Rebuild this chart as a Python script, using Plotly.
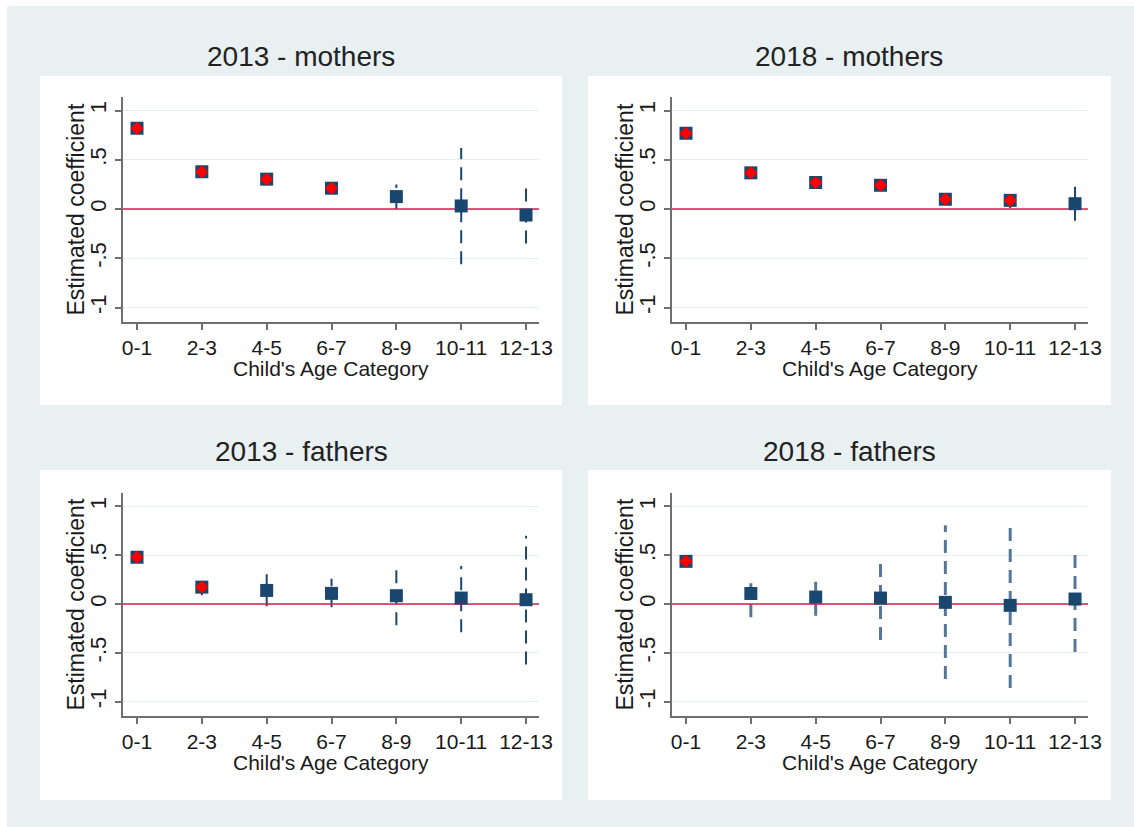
import plotly.graph_objects as go

# ---------------- data ----------------
categories = ["0-1", "2-3", "4-5", "6-7", "8-9", "10-11", "12-13"]

titles = ["2013 - mothers", "2018 - mothers", "2013 - fathers", "2018 - fathers"]
x_title = "Child's Age Category"
y_title = "Estimated coefficient"

m2013_coef = [0.82, 0.378, 0.303, 0.211, 0.126, 0.031, -0.061]
m2013_lo = [0.79, 0.35, 0.27, 0.18, 0.0, -0.56, -0.35]
m2013_hi = [0.85, 0.41, 0.33, 0.24, 0.25, 0.62, 0.228]
m2013_sig = [1, 1, 1, 1, 0, 0, 0]

m2018_coef = [0.769, 0.367, 0.269, 0.241, 0.099, 0.088, 0.054]
m2018_lo = [0.74, 0.34, 0.24, 0.21, 0.07, 0.01, -0.12]
m2018_hi = [0.80, 0.39, 0.30, 0.27, 0.13, 0.167, 0.235]
m2018_sig = [1, 1, 1, 1, 1, 1, 0]

f2013_coef = [0.479, 0.173, 0.139, 0.109, 0.085, 0.061, 0.044]
f2013_lo = [0.45, 0.09, -0.024, -0.034, -0.217, -0.289, -0.62]
f2013_hi = [0.51, 0.25, 0.306, 0.258, 0.39, 0.39, 0.70]
f2013_sig = [1, 1, 0, 0, 0, 0, 0]

f2018_coef = [0.437, 0.108, 0.071, 0.061, 0.017, -0.014, 0.051]
f2018_lo = [0.40, -0.136, -0.119, -0.369, -0.769, -0.861, -0.492]
f2018_hi = [0.47, 0.281, 0.264, 0.485, 0.807, 0.824, 0.576]
f2018_sig = [1, 0, 0, 0, 0, 0, 0]

y_tickvals = [-1, -0.5, 0, 0.5, 1]
y_ticktext = ["-1", "-.5", "0", ".5", "1"]
reference_value = 0

panels = [
    (m2013_coef, m2013_lo, m2013_hi, m2013_sig),
    (m2018_coef, m2018_lo, m2018_hi, m2018_sig),
    (f2013_coef, f2013_lo, f2013_hi, f2013_sig),
    (f2018_coef, f2018_lo, f2018_hi, f2018_sig),
]

# ---------------- layout geometry (pixels) ----------------
W, H = 1134, 827
FONT = "Liberation Sans, Arial, sans-serif"
NAVY = "#1a476f"
BG = "#e8f0f2"
TXT = "#1a1a1a"
X_RANGE = [-0.216, 6.2]
Y_RANGE = [-1.147, 1.137]

# plot areas: (x_left, x_right, y_top, y_bottom)
areas = [
    (123, 539, 97, 322),
    (672, 1088, 97, 322),
    (123, 539, 493, 716),
    (672, 1088, 493, 716),
]
# white panel rectangles
boxes = [
    (40, 562, 76, 405),
    (588, 1111, 76, 405),
    (40, 562, 470, 800),
    (588, 1111, 470, 800),
]
title_pos = [(301, 57), (849, 57), (301, 451), (849, 451)]
ytitle_x = [75, 624, 75, 624]

def px(x):
    return x / W

def py(y):
    return 1 - y / H

fig = go.Figure()
shapes = []
annotations = []

# background
shapes.append(dict(type="rect", xref="paper", yref="paper", x0=px(7), x1=1, y0=0, y1=py(6),
                   fillcolor=BG, line=dict(width=0), layer="below"))
for (x0, x1, y0, y1) in boxes:
    shapes.append(dict(type="rect", xref="paper", yref="paper", x0=px(x0), x1=px(x1),
                       y0=py(y1), y1=py(y0), fillcolor="white", line=dict(width=0), layer="below"))

xpos = list(range(len(categories)))

for i, (coef, lo, hi, sig) in enumerate(panels):
    n = i + 1
    xa = "x" if n == 1 else f"x{n}"
    ya = "y" if n == 1 else f"y{n}"
    xl, xr, yt, yb = areas[i]

    # confidence intervals (dashed vertical segments)
    cx, cy = [], []
    for c, l, h in zip(xpos, lo, hi):
        cx += [c, c, None]
        cy += [l, h, None]
    ci_color = "#56779a" if i == 3 else NAVY
    ci_width = 3 if i == 3 else 2
    fig.add_trace(go.Scatter(x=cx, y=cy, mode="lines", xaxis=xa, yaxis=ya,
                             line=dict(color=ci_color, width=ci_width, dash="13px,8px"),
                             hoverinfo="skip", showlegend=False, connectgaps=False))
    # red reference line at zero, across the whole axis
    fig.add_trace(go.Scatter(x=X_RANGE, y=[reference_value, reference_value], mode="lines",
                             xaxis=xa, yaxis=ya, line=dict(color="#d0204a", width=1.6),
                             hoverinfo="skip", showlegend=False))
    # point estimates
    fig.add_trace(go.Scatter(x=xpos, y=coef, mode="markers", xaxis=xa, yaxis=ya,
                             marker=dict(symbol="square", size=13, color=NAVY, line=dict(width=0)),
                             showlegend=False, cliponaxis=False))
    # significant estimates
    sx = [c for c, s in zip(xpos, sig) if s]
    sy = [v for v, s in zip(coef, sig) if s]
    fig.add_trace(go.Scatter(x=sx, y=sy, mode="markers", xaxis=xa, yaxis=ya,
                             marker=dict(symbol="diamond", size=10, color="#ff0000", line=dict(width=0)),
                             showlegend=False, cliponaxis=False))

    axis_common = dict(showline=True, linecolor="#6f6f6f", linewidth=1.5,
                       ticks="outside", ticklen=6, tickcolor="#6f6f6f", tickwidth=1.5,
                       zeroline=False, automargin=False)
    fig.layout[f"xaxis{'' if n == 1 else n}"] = dict(
        domain=[px(xl), px(xr)], anchor=ya,
        tickvals=xpos, ticktext=categories,
        range=X_RANGE, showgrid=False,
        tickfont=dict(family=FONT, size=21, color=TXT),
        **axis_common)
    fig.layout[f"yaxis{'' if n == 1 else n}"] = dict(
        domain=[py(yb), py(yt)], anchor=xa, range=Y_RANGE,
        tickvals=y_tickvals, ticktext=y_ticktext, tickangle=-90,
        showgrid=True, gridcolor="#e6eff1", gridwidth=1,
        tickfont=dict(family=FONT, size=22, color=TXT),
        **axis_common)

    # axis titles
    annotations.append(dict(text=x_title, xref=f"{xa} domain", yref="paper", x=0.5, y=py(368),
                            showarrow=False, xanchor="center", yanchor="middle",
                            yshift=-(yb - 322) * 1.0 if False else 0,
                            font=dict(family=FONT, size=21, color=TXT)))
    annotations.append(dict(text=y_title, xref="paper", yref=f"{ya} domain", x=px(ytitle_x[i]), y=0.5,
                            textangle=-90, showarrow=False, xanchor="center", yanchor="middle",
                            font=dict(family=FONT, size=23, color=TXT)))

    tx, ty = title_pos[i]
    annotations.append(dict(text=titles[i], xref="paper", yref="paper", x=px(tx), y=py(ty),
                            showarrow=False, xanchor="center", yanchor="middle",
                            font=dict(family=FONT, size=28, color="#222222")))

# x-axis titles sit 46 px below each axis line
for k, (xl, xr, yt, yb) in enumerate(areas):
    annotations[3 * k]["y"] = py(yb + 46)

fig.update_layout(template="none", width=W, height=H, margin=dict(l=0, r=0, t=0, b=0, pad=0),
                  paper_bgcolor="white", plot_bgcolor="rgba(0,0,0,0)",
                  shapes=shapes, annotations=annotations, showlegend=False)

fig.write_html(
    "out.html",
    config={"displayModeBar": False},
    post_script=(
        "document.documentElement.style.margin='0';"
        "document.documentElement.style.overflow='hidden';"
        "document.body.style.margin='0';"
        "document.body.style.overflow='hidden';"
    ),
)
